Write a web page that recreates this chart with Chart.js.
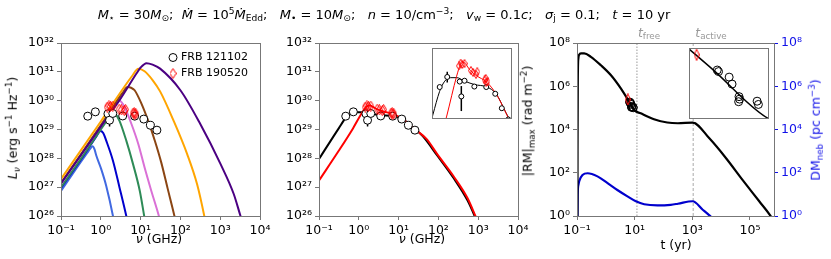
<!DOCTYPE html>
<html><head><meta charset="utf-8">
<script src="https://cdn.jsdelivr.net/npm/chart.js@4.4.1/dist/chart.umd.min.js"></script>
<style>
  body{margin:0;background:#fff;}
  #wrap{position:relative;width:831px;height:259px;overflow:hidden;font-family:'DejaVu Sans',sans-serif;}
  canvas{position:absolute;left:0;top:0;}
  .t{position:absolute;white-space:nowrap;font-size:12.5px;line-height:1;font-weight:normal;transform:translate(-50%,-50%);}
  .r{transform:translate(-50%,-50%) rotate(-90deg);}
  sub,sup{font-size:70%;line-height:0;}
  sub{vertical-align:-0.3em;} sup{vertical-align:0.55em;}
</style></head>
<body>
<div id="wrap">
  <canvas id="c1" width="831" height="259"></canvas>
  <canvas id="c2" width="831" height="259"></canvas>
  <canvas id="c2i" width="831" height="259"></canvas>
  <canvas id="c3" width="831" height="259"></canvas>
  <canvas id="c3i" width="831" height="259"></canvas>
  <div class="t" style="left:384px;top:14px;font-size:13px"><i>M</i><sub>⋆</sub> = 30<i>M</i><sub>⊙</sub>;&nbsp; <i>Ṁ</i> = 10<sup>5</sup><i>Ṁ</i><sub>Edd</sub>;&nbsp;&nbsp; <i>M</i><sub>•</sub> = 10<i>M</i><sub>⊙</sub>;&nbsp;&nbsp; <i>n</i> = 10/cm<sup>−3</sup>;&nbsp;&nbsp; <i>v</i><sub>w</sub> = 0.1<i>c</i>;&nbsp;&nbsp; <i>σ</i><sub>j</sub> = 0.1;&nbsp;&nbsp; <i>t</i> = 10 yr</div>
  <div class="t" style="left:159px;top:239px"><i>ν</i> (GHz)</div>
  <div class="t" style="left:422px;top:239px"><i>ν</i> (GHz)</div>
  <div class="t" style="left:676px;top:245px">t (yr)</div>
  <div class="t r" style="left:13px;top:128px;font-size:12.5px"><i>L</i><sub><i>ν</i></sub> (erg s<sup>−1</sup> Hz<sup>−1</sup>)</div>
  <div class="t r" style="left:528px;top:121px;font-size:12.5px">|RM|<sub>max</sub> (rad m<sup>−2</sup>)</div>
  <div class="t r" style="left:816px;top:130px;font-size:12.5px;color:#1010e8">DM<sub>neb</sub> (pc cm<sup>−3</sup>)</div>
  <div class="t" style="left:649px;top:33px;color:#999"><i>t</i><sub>free</sub></div>
  <div class="t" style="left:711px;top:33px;color:#999"><i>t</i><sub>active</sub></div>
</div>
<script>
(function(){
  const W = 831, H = 259;
  Chart.defaults.font.family = 'DejaVu Sans';
  Chart.defaults.color = '#000';

  // panel 1: model spectra, nu (GHz) vs L_nu (erg/s/Hz)
  const nuRoyal  = [0.1, 0.25, 0.45, 0.55, 0.62, 0.7, 0.77, 1.02, 1.37, 2.02, 2.4];
  const lRoyal   = [7.4e26, 4.7e27, 1.5e28, 2.2e28, 2.6e28, 2.0e28, 1.25e28, 4.3e27, 1.1e27, 1.0e26, 2.5e25];
  const nuMblue  = [0.1, 0.32, 0.56, 0.76, 0.98, 1.15, 1.37, 2.02, 2.95, 4.37, 5.2];
  const lMblue   = [9.3e26, 9.3e27, 2.95e28, 5.5e28, 8.9e28, 7.6e28, 4.1e28, 8.3e27, 9.8e26, 1.0e26, 3.2e25];
  const nuGreen  = [0.1, 0.32, 1.0, 1.58, 1.95, 2.3, 2.95, 4.37, 6.46, 9.55, 12.3, 14.5];
  const lGreen   = [1.0e27, 1.0e28, 1.0e29, 2.5e29, 3.8e29, 3.5e29, 2.0e29, 4.1e28, 6.3e27, 7.4e26, 1.0e26, 2.5e25];
  const nuOrchid = [0.1, 0.32, 1.0, 2.14, 2.69, 3.31, 3.98, 5.89, 8.71, 12.6, 18.6, 28.8, 34];
  const lOrchid  = [1.3e27, 1.3e28, 1.3e29, 6.0e29, 1.07e30, 8.9e29, 5.9e29, 1.55e29, 3.2e28, 4.8e27, 7.4e26, 1.0e26, 4.0e25];
  const nuBrown  = [0.1, 0.32, 1.0, 3.55, 4.68, 5.75, 7.08, 10.5, 15.5, 22.9, 33.1, 47.9, 70.8, 85];
  const lBrown   = [1.4e27, 1.4e28, 1.4e29, 1.9e30, 2.95e30, 2.8e30, 2.3e30, 7.9e29, 2.0e29, 4.0e28, 7.1e27, 8.9e26, 1.0e26, 3.2e25];
  const nuOrange = [0.1, 1.0, 6.31, 8.71, 12.6, 20, 30.9, 67.6, 148, 263, 398, 480];
  const lOrange  = [1.9e27, 1.9e29, 7.6e30, 1.29e31, 1.05e31, 5.2e30, 2.1e30, 2.0e29, 1.4e28, 1.26e27, 1.0e26, 2.5e25];
  const nuIndigo = [0.1, 1.0, 3.16, 7.94, 10, 14.1, 20, 30.9, 100, 316, 1023, 2188, 3236, 4000];
  const lIndigo  = [1.35e27, 1.26e29, 1.2e30, 8.9e30, 1.41e31, 2.0e31, 1.78e31, 1.29e31, 2.3e30, 1.55e29, 6.3e27, 5.8e26, 1.0e26, 4.0e25];

  // observed persistent radio sources
  const nu121102 = [0.47, 0.73, 1.51, 1.66, 2.0, 3.55, 7.1, 12.0, 17.6, 25.7];
  const l121102  = [2.9e29, 4.1e29, 3.5e29, 2.1e29, 3.6e29, 2.95e29, 2.9e29, 2.3e29, 1.4e29, 9.5e28];
  const lo121102 = [null, 3.4e29, null, 1.27e29, null, null, null, null, null, null];
  const hi121102 = [null, 4.9e29, null, 3.0e29, null, null, null, null, null, null];
  const nu190520 = [1.45, 1.6, 1.75, 2.0, 2.9, 3.3, 3.9, 4.2, 6.5, 6.9, 7.1, 7.6];
  const l190520  = [6.0e29, 6.6e29, 6.3e29, 6.5e29, 5.1e29, 4.8e29, 4.5e29, 4.9e29, 3.7e29, 3.9e29, 3.4e29, 3.5e29];

  // panel 2: fits
  const nuFitA = [0.1, 0.316, 0.468, 0.631, 0.891, 1.29, 1.91, 3.55, 7.41, 12.6, 22.4, 39.8, 93.3, 245, 537, 813, 1122];
  const lFitA  = [9.5e27, 1.12e29, 2.5e29, 3.55e29, 4.0e29, 4.0e29, 3.6e29, 3.16e29, 2.9e29, 2.3e29, 1.2e29, 6.0e28, 1.26e28, 2.0e27, 3.5e26, 1.0e26, 3.2e25];
  const nuFitB = [0.1, 0.316, 0.708, 1.26, 1.58, 1.86, 2.82, 3.98, 7.41, 13.2, 24.5, 50.1, 93.3, 245, 537, 851, 1122];
  const lFitB  = [1.7e27, 1.86e28, 1.07e29, 4.2e29, 6.3e29, 6.8e29, 5.1e29, 4.3e29, 3.4e29, 2.2e29, 1.07e29, 4.7e28, 1.4e28, 2.3e27, 4.2e26, 1.0e26, 4.0e25];

  // panel 3: RM and DM vs age
  const tRM  = [0.1033, 0.1045, 0.1064, 0.1081, 0.1119, 0.1175, 0.138, 0.178, 0.302, 0.676, 1.51, 3.31, 6.46, 9.55, 16.2, 46.8, 135, 316, 1023, 3890, 14800, 55000, 209000, 501000, 708000];
  const rmV  = [0.5, 1e3, 1e6, 7.9e6, 2.0e7, 2.8e7, 3.3e7, 3.3e7, 2.3e7, 9.3e6, 3.2e6, 7.9e5, 1.9e5, 7.9e4, 5.6e4, 3.0e4, 2.1e4, 1.95e4, 2.1e4, 3.9e3, 470, 47, 4.8, 1.07, 0.5];
  const tDM  = [0.1033, 0.1059, 0.1122, 0.1202, 0.155, 0.234, 0.513, 1.15, 2.51, 5.62, 11.0, 21.4, 61.7, 178, 316, 1023, 2291, 3890, 5012];
  const dmV  = [0.32, 10, 28, 42, 79, 95, 68, 33, 16, 8.1, 4.8, 3.5, 3.1, 3.3, 3.7, 4.8, 1.95, 1.07, 0.79];
  const tObs121102  = [6.70, 6.76, 7.28, 7.43, 7.80, 7.83, 7.78, 8.85, 8.93];
  const rmObs121102 = [1.86e5, 1.81e5, 1.64e5, 1.45e5, 1.16e5, 1.11e5, 1.06e5, 1.07e5, 1.01e5];
  const tObs190520  = [5.8];
  const rmObs190520 = [2.44e5];
  const tFree = 12, tActive = 1070;

  // axes
  const nuTicks = [1e-1, 1e0, 1e1, 1e2, 1e3, 1e4];
  const lTicks  = [1e26, 1e27, 1e28, 1e29, 1e30, 1e31, 1e32];
  const tTicks  = [1e-1, 1e1, 1e3, 1e5];
  const rmTicks = [1e0, 1e2, 1e4, 1e6, 1e8];

  const SUP = {'-':'\u207b','0':'\u2070','1':'\u00b9','2':'\u00b2','3':'\u00b3','4':'\u2074','5':'\u2075','6':'\u2076','7':'\u2077','8':'\u2078','9':'\u2079'};
  const pow10 = v => '10' + String(Math.round(Math.log10(v))).replace(/./g, c => SUP[c]);
  const xy = (xs, ys) => xs.map((x, i) => ({x, y: ys[i]}));

  function thinDiamond(w, h, color){
    const c = document.createElement('canvas');
    c.width = w + 2; c.height = h + 2;
    const g = c.getContext('2d');
    g.strokeStyle = color; g.lineWidth = 1;
    g.beginPath();
    g.moveTo(c.width/2, 0.5); g.lineTo(c.width - 0.5, c.height/2);
    g.lineTo(c.width/2, c.height - 0.5); g.lineTo(0.5, c.height/2);
    g.closePath(); g.stroke();
    return c;
  }

  const curve = (xs, ys, color, w) => ({data: xy(xs, ys), showLine: true, borderColor: color, borderWidth: w,
    pointRadius: 0, cubicInterpolationMode: 'monotone', fill: false});
  const marks = (xs, ys, style, r, color, bg, label) => ({data: xy(xs, ys), showLine: false, pointStyle: style,
    pointRadius: r, pointBorderColor: color, pointBackgroundColor: bg, pointBorderWidth: 1, label});

  const logAxis = (min, max, ticks, o = {}) => ({
    type: 'logarithmic', min, max, display: o.display !== false, position: o.position,
    afterBuildTicks: s => { s.ticks = ticks.map(v => ({value: v})); },
    afterFit: s => { if (o.size != null) { if (s.isHorizontal()) s.height = o.size; else s.width = o.size; } },
    ticks: {callback: v => pow10(v), autoSkip: false, maxRotation: 0, padding: 3, color: o.color || '#000', font: {size: 12.5}},
    grid: {drawOnChartArea: false, tickLength: 4, color: o.tick || '#777'},
    border: {display: false}
  });

  // frame, white inset background, error bars, in-axes legend
  const frame = {
    id: 'frame',
    beforeDraw(ch, a, o){
      if (!o.bg) return;
      const c = ch.chartArea;
      ch.ctx.save(); ch.ctx.fillStyle = '#fff'; ch.ctx.fillRect(c.left, c.top, c.width, c.height); ch.ctx.restore();
    },
    beforeDatasetsDraw(ch){
      const g = ch.ctx, c = ch.chartArea;
      g.save(); g.beginPath(); g.rect(c.left, c.top, c.width, c.height); g.clip();
      ch.data.datasets.forEach((ds, i) => {
        if (!ds.errLo) return;
        const meta = ch.getDatasetMeta(i), ys = ch.scales[meta.yAxisID];
        g.strokeStyle = ds.pointBorderColor; g.lineWidth = ds.errWidth || 1.5;
        ds.errLo.forEach((lo, j) => {
          if (lo == null) return;
          const x = meta.data[j].x;
          g.beginPath(); g.moveTo(x, ys.getPixelForValue(lo)); g.lineTo(x, ys.getPixelForValue(ds.errHi[j])); g.stroke();
        });
      });
      g.restore();
    },
    afterDatasetsDraw(ch, a, o){
      const g = ch.ctx, c = ch.chartArea;
      g.save();
      g.strokeStyle = '#777'; g.lineWidth = 1;
      const x0 = Math.round(c.left - 0.5) + 0.5, y0 = Math.round(c.top - 0.5) + 0.5;
      g.strokeRect(x0, y0, Math.round(c.right - 0.5) + 0.5 - x0, Math.round(c.bottom - 0.5) + 0.5 - y0);
      if (o.legend) {
        const L = o.legend;
        L.items.forEach((idx, k) => {
          const ds = ch.data.datasets[idx], y = L.y + k * L.dy;
          g.fillStyle = ds.pointBackgroundColor; g.strokeStyle = ds.pointBorderColor; g.lineWidth = 1;
          Chart.helpers.drawPoint(g, {pointStyle: ds.pointStyle, radius: ds.pointRadius, borderWidth: 1, rotation: 0}, L.x, y);
          g.fillStyle = '#000'; g.font = '11px "DejaVu Sans"'; g.textBaseline = 'middle'; g.textAlign = 'left';
          g.fillText(ds.label, L.tx, y);
        });
      }
      g.restore();
    }
  };

  function make(id, area, datasets, scales, yw, y2w, xh, opts){
    return new Chart(document.getElementById(id), {
      type: 'scatter',
      data: {datasets},
      options: {
        responsive: false, animation: false, events: [],
        layout: {padding: {left: area.l - yw, top: area.t, right: W - area.r - y2w, bottom: H - area.b - xh}},
        scales,
        plugins: {legend: {display: false}, tooltip: {enabled: false}, frame: opts || {}}
      },
      plugins: [frame]
    });
  }

  const dMain = thinDiamond(5, 9, '#ff0000');
  const dSmall = thinDiamond(4, 7, '#ff0000');
  const dRM = thinDiamond(4, 10, '#ff0000');

  // panel 1
  make('c1', {l: 61, t: 43, r: 260, b: 216}, [
    marks(nu190520, l190520, dMain, 4, '#ff0000', 'rgba(0,0,0,0)', 'FRB 190520'),
    Object.assign(marks(nu121102, l121102, 'circle', 4, '#000', '#fff', 'FRB 121102'), {errLo: lo121102, errHi: hi121102}),
    curve(nuIndigo, lIndigo, '#4b0082', 2),
    curve(nuOrange, lOrange, '#ffa500', 2),
    curve(nuBrown, lBrown, '#8b4513', 2),
    curve(nuOrchid, lOrchid, '#da70d6', 2),
    curve(nuGreen, lGreen, '#2e8b57', 2),
    curve(nuMblue, lMblue, '#0000cd', 2),
    curve(nuRoyal, lRoyal, '#4169e1', 2)
  ], {
    x: logAxis(0.1, 1e4, nuTicks, {size: 25}),
    y: logAxis(1e26, 1e32, lTicks, {size: 40})
  }, 40, 0, 25, {legend: {items: [1, 0], x: 173, y: 57.5, dy: 16, tx: 181}});

  // panel 2
  const p2sets = (r, dia, lw) => [
    marks(nu190520, l190520, dia, r, '#ff0000', 'rgba(0,0,0,0)', 'FRB 190520'),
    Object.assign(marks(nu121102, l121102, 'circle', r, '#000', '#fff', 'FRB 121102'), {errLo: lo121102, errHi: hi121102}),
    curve(nuFitB, lFitB, '#ff0000', lw),
    curve(nuFitA, lFitA, '#000', lw)
  ];
  make('c2', {l: 319, t: 43, r: 518, b: 216}, p2sets(4, dMain, 2), {
    x: logAxis(0.1, 1e4, nuTicks, {size: 25}),
    y: logAxis(1e26, 1e32, lTicks, {size: 40})
  }, 40, 0, 25);
  make('c2i', {l: 432, t: 48, r: 511, b: 118}, p2sets(2.5, dSmall, 1), {
    x: logAxis(0.312, 30.1, [], {display: false}),
    y: logAxis(1.0e29, 1.11e30, [], {display: false})
  }, 0, 0, 0, {bg: true});

  // panel 3
  const p3sets = (r, lw, withDM) => {
    const s = [
      marks(tObs190520, rmObs190520, dRM, r, '#ff0000', 'rgba(0,0,0,0)', 'FRB 190520'),
      marks(tObs121102, rmObs121102, 'circle', r, '#000', 'rgba(0,0,0,0)', 'FRB 121102'),
      curve(tRM, rmV, '#000', lw)
    ];
    if (withDM) {
      s.push(Object.assign(curve(tDM, dmV, '#0000cd', lw), {yAxisID: 'y2'}));
      s.push({data: [{x: tActive, y: 1}, {x: tActive, y: 1e8}], showLine: true, borderColor: '#aaa', borderWidth: 1, borderDash: [3, 2], pointRadius: 0});
      s.push({data: [{x: tFree, y: 1}, {x: tFree, y: 1e8}], showLine: true, borderColor: '#999', borderWidth: 1, borderDash: [1.5, 1.5], pointRadius: 0});
    }
    return s;
  };
  make('c3', {l: 577, t: 43, r: 774, b: 216}, p3sets(4, 2.2, true), {
    x: logAxis(0.1, 6.8e5, tTicks, {size: 25}),
    y: logAxis(1, 1e8, rmTicks, {size: 35}),
    y2: logAxis(1, 1e8, rmTicks, {size: 40, position: 'right', color: '#1010e8', tick: '#1010e8'})
  }, 35, 40, 25);
  make('c3i', {l: 689, t: 48, r: 768, b: 118}, p3sets(4, 1.5, false), {
    x: logAxis(5.5, 9.55, [], {display: false}),
    y: logAxis(7.94e4, 2.75e5, [], {display: false})
  }, 0, 0, 0, {bg: true});
})();
</script>
</body></html>
